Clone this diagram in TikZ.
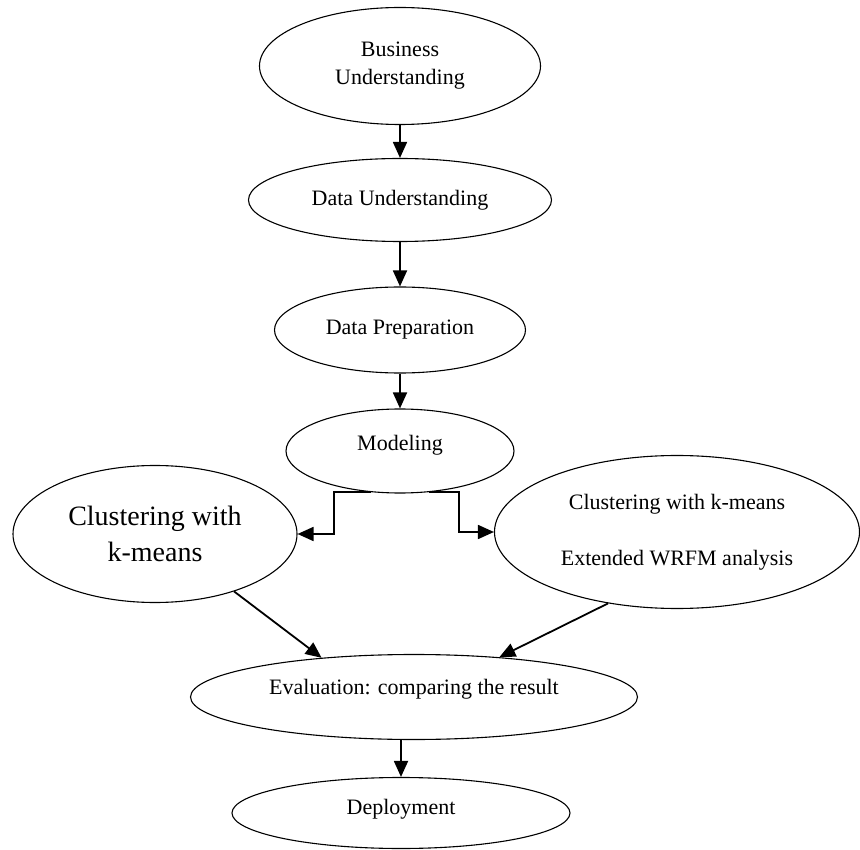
\documentclass[tikz,border=0pt]{standalone}
\usepackage{fontspec}
\setmainfont{Liberation Serif}
\usetikzlibrary{shapes.geometric, arrows.meta}
\tikzset{
	phase/.style={ellipse, draw=black, line width=1.1pt, inner sep=0pt, align=center,
	font=\fontsize{22}{28}\selectfont}
}
\tikzset{
	flow/.style={draw=black, line width=1.8pt, -{Triangle[length=16pt,width=14pt]}}
}

\begin{document}
\begin{tikzpicture}[x=1pt, y=-1pt]
		\useasboundingbox (0,0) rectangle (860,850);

		% main phases
		\node[phase, minimum width=281, minimum height=117] (bu) at (400,66) {Business\\Understanding};
		\node[phase, minimum width=303, minimum height=83] (du) at (400,200) {Data Understanding};
		\node[phase, minimum width=251, minimum height=86] (dp) at (400,330) {Data Preparation};
		\node[phase, minimum width=228, minimum height=84, text depth=16pt] (mod) at (400,451) {Modeling};

		% two clustering variants
		\node[phase, minimum width=284, minimum height=137, font=\fontsize{28}{36}\selectfont] (kml) at (155,534) {Clustering with\\k-means};
		\node[phase, minimum width=365, minimum height=153] (kmr) at (677,532) {Clustering with k-means\\[28pt]Extended WRFM analysis};

		% evaluation and deployment
		\node[phase, minimum width=447, minimum height=85, text depth=20pt] (ev) at (414,697) {Evaluation: comparing the result};
		\node[phase, minimum width=338, minimum height=71, text depth=12pt] (dep) at (401,813) {Deployment};

		% flow
		\draw[flow] (bu) -- (du);
		\draw[flow] (du) -- (dp);
		\draw[flow] (dp) -- (mod);
		\draw[flow] (mod.-125) -- ++(-37,0) |- (kml.east);
		\draw[flow] (mod.-55) -- ++(30,0) |- (kmr.west);
		\draw[flow] (kml.-36) -- (ev.157);
		\draw[flow] (kmr.-134) -- (ev.25);
		\draw[flow] (dep.north |- ev.south) -- (dep.north);
	\end{tikzpicture}
\end{document}
